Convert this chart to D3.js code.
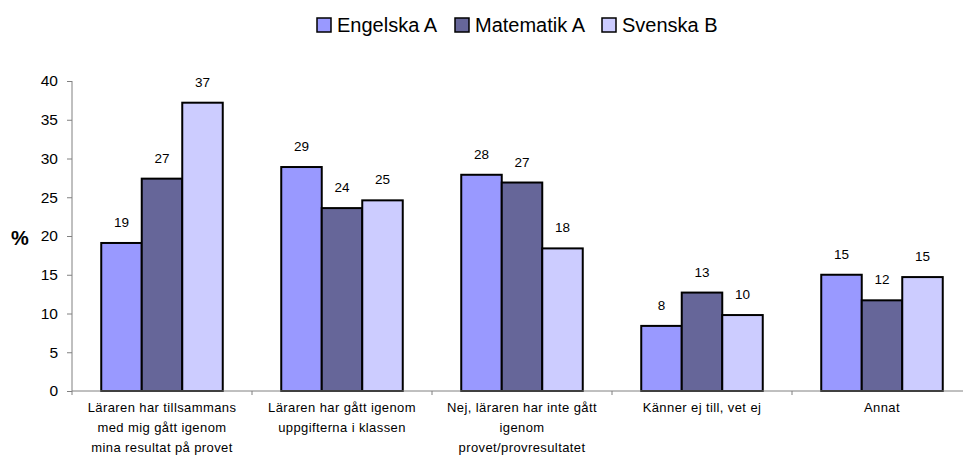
<!DOCTYPE html>
<html>
<head>
<meta charset="utf-8">
<script src="https://cdn.jsdelivr.net/npm/d3@7"></script>
<style>
  body { margin: 0; background: #fff; }
  svg { display: block; font-family: "Liberation Sans", Arial, sans-serif; }
</style>
</head>
<body>
<svg id="chart"></svg>
<script>
// Categories (line breaks as in the original)
const categories = [
    "Läraren har tillsammans\nmed mig gått igenom\nmina resultat på provet",
    "Läraren har gått igenom\nuppgifterna i klassen",
    "Nej, läraren har inte gått\nigenom\nprovet/provresultatet",
    "Känner ej till, vet ej",
    "Annat"
];

// Series
const series = ["Engelska A", "Matematik A", "Svenska B"];
const engelska = [19.1, 28.9, 27.9, 8.4, 15.0];
const matematik = [27.4, 23.6, 26.9, 12.7, 11.7];
const svenska = [37.2, 24.6, 18.4, 9.8, 14.7];
const colors = ["#9999ff", "#666699", "#ccccff"];

const yTicks = [0, 5, 10, 15, 20, 25, 30, 35, 40];

const width = 963, height = 463;
const plotLeft = 72, plotTop = 81, plotBottom = 391;

const svg = d3.select("#chart")
    .attr("width", width)
    .attr("height", height);

svg.append("rect").attr("width", width).attr("height", height).attr("fill", "#fff");

// Scales
const x = d3.scaleBand()
    .domain(categories)
    .range([plotLeft, plotLeft + 180 * categories.length]);

const xInner = d3.scaleBand()
    .domain(series)
    .range([0, x.bandwidth()])
    .paddingOuter(0.722);

const y = d3.scaleLinear()
    .domain([0, 40])
    .range([plotBottom, plotTop]);

const values = [engelska, matematik, svenska];

// Bars
const groups = svg.selectAll("g.cat")
    .data(categories)
    .enter()
    .append("g")
    .attr("class", "cat")
    .attr("transform", d => `translate(${x(d)},0)`);

groups.each(function(c, i) {
    const g = d3.select(this);
    series.forEach((s, j) => {
        const v = values[j][i];
        g.append("rect")
            .attr("x", xInner(s))
            .attr("y", y(v))
            .attr("width", xInner.bandwidth())
            .attr("height", y(0) - y(v))
            .attr("fill", colors[j])
            .attr("stroke", "#000")
            .attr("stroke-width", 2);
        g.append("text")
            .attr("x", xInner(s) + xInner.bandwidth() / 2)
            .attr("y", y(v) - 16)
            .attr("text-anchor", "middle")
            .attr("font-size", 13.5)
            .attr("fill", "#000")
            .text(d3.format(".0f")(v));
    });
});

// Y axis
const yAxis = svg.append("g")
    .attr("transform", `translate(${plotLeft},0)`)
    .call(d3.axisLeft(y).tickValues(yTicks).tickSize(5).tickPadding(9));
yAxis.selectAll("text").attr("font-size", 15.5).attr("fill", "#000").attr("font-family", null);
yAxis.selectAll("line").attr("stroke", "#808080");
yAxis.select(".domain").attr("stroke", "#808080").attr("d", `M0,${plotTop}V${plotBottom}`);

// X axis line and ticks between categories
svg.append("line")
    .attr("x1", plotLeft).attr("x2", width)
    .attr("y1", plotBottom).attr("y2", plotBottom)
    .attr("stroke", "#808080");
svg.selectAll("line.xtick")
    .data(categories)
    .enter()
    .append("line")
    .attr("x1", d => x(d)).attr("x2", d => x(d))
    .attr("y1", plotBottom).attr("y2", plotBottom + 4)
    .attr("stroke", "#808080");

// Category labels
groups.append("text")
    .attr("text-anchor", "middle")
    .attr("font-size", 13)
    .attr("letter-spacing", 0.4)
    .attr("fill", "#000")
    .selectAll("tspan")
    .data(d => d.split("\n"))
    .enter()
    .append("tspan")
    .attr("x", 90)
    .attr("y", (d, i) => 412 + i * 20)
    .text(d => d);

// Y label
svg.append("text")
    .attr("x", 11)
    .attr("y", 245)
    .attr("font-size", 20)
    .attr("font-weight", "bold")
    .text("%");

// Legend
const legendX = [317, 455, 602];
const legend = svg.selectAll("g.legend")
    .data(series)
    .enter()
    .append("g")
    .attr("class", "legend")
    .attr("transform", (d, i) => `translate(${legendX[i]},18)`);
legend.append("rect")
    .attr("width", 14).attr("height", 14)
    .attr("fill", (d, i) => colors[i])
    .attr("stroke", "#000")
    .attr("stroke-width", 1.5);
legend.append("text")
    .attr("x", 20)
    .attr("y", 14)
    .attr("font-size", 20)
    .attr("fill", "#000")
    .text(d => d);
</script>
</body>
</html>
